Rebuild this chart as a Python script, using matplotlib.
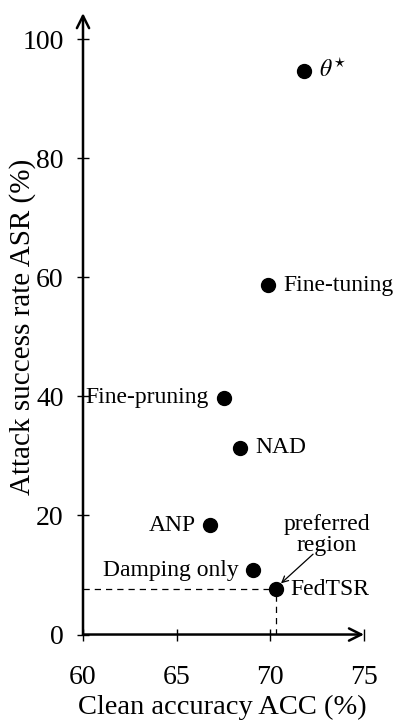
import matplotlib
matplotlib.use("Agg")
import matplotlib.pyplot as plt

# Data
methods = [r"$\theta^{\star}$", "Fine-tuning", "Fine-pruning", "NAD", "ANP", "Damping only", "FedTSR"]
acc = [71.8, 69.9, 67.5, 68.4, 66.8, 69.1, 70.3]
asr = [94.7, 58.7, 39.8, 31.4, 18.4, 10.8, 7.6]
label_side = ["right", "right", "left", "right", "left", "left", "right"]
x_ticks = [60, 65, 70, 75]
y_ticks = [0, 20, 40, 60, 80, 100]

plt.rcParams['font.family'] = ['Liberation Serif', 'DejaVu Serif']
plt.rcParams['mathtext.fontset'] = 'stix'

fig = plt.figure(figsize=(4.0, 7.28), dpi=100)
ax = fig.add_axes([0.2075, 0.1284, 0.7025, 0.8536])

xmin, xmax = 60, 75
ymin, ymax = 0, 104.4
ax.set_xlim(xmin, xmax)
ax.set_ylim(ymin, ymax)

for s in ["top", "right", "left", "bottom"]:
    ax.spines[s].set_visible(False)

# axis lines with arrows
ax.annotate("", xy=(1.0, 0), xytext=(0, 0), xycoords="axes fraction",
            arrowprops=dict(arrowstyle="->", lw=1.8, color="black",
                            mutation_scale=22, shrinkA=0, shrinkB=0))
ax.annotate("", xy=(0, 1.0), xytext=(0, 0), xycoords="axes fraction",
            arrowprops=dict(arrowstyle="->", lw=1.8, color="black",
                            mutation_scale=22, shrinkA=0, shrinkB=0))

ax.set_xticks(x_ticks)
ax.set_yticks(y_ticks)
ax.tick_params(direction="inout", length=8, width=1.0, labelsize=20)
ax.tick_params(axis="x", pad=18)
ax.tick_params(axis="y", pad=10)

ax.set_xlabel("Clean accuracy ACC (%)", fontsize=20.5, va="top")
ax.xaxis.set_label_coords(0.496, -0.097)
ax.set_ylabel("Attack success rate ASR (%)", fontsize=21, va="bottom")
ax.yaxis.set_label_coords(-0.168, 0.495)

# dashed guide lines to FedTSR
fx, fy = acc[-1], asr[-1]
ax.plot([xmin, fx], [fy, fy], ls=(0, (5, 4)), color="black", lw=0.9, zorder=1)
ax.plot([fx, fx], [ymin, fy], ls=(0, (5, 4)), color="black", lw=0.9, zorder=1)

ax.plot(acc, asr, "o", color="black", ms=10, zorder=3, clip_on=False)

for m, x, y, side in zip(methods, acc, asr, label_side):
    if side == "right":
        ax.annotate(m, (x, y), xytext=(10.5, 0), textcoords="offset points",
                    ha="left", va="center", fontsize=17)
    else:
        ax.annotate(m, (x, y), xytext=(-10.5, 0), textcoords="offset points",
                    ha="right", va="center", fontsize=17)

ax.text(73.0, 16.8, "preferred\nregion", ha="center", va="center",
        fontsize=17, linespacing=1.0)
ax.annotate("", xy=(70.57, 8.6), xytext=(72.28, 13.5),
            arrowprops=dict(arrowstyle="->", lw=0.9, color="black",
                            shrinkA=0, shrinkB=0, mutation_scale=11))

fig.savefig("out.png", dpi=100)
